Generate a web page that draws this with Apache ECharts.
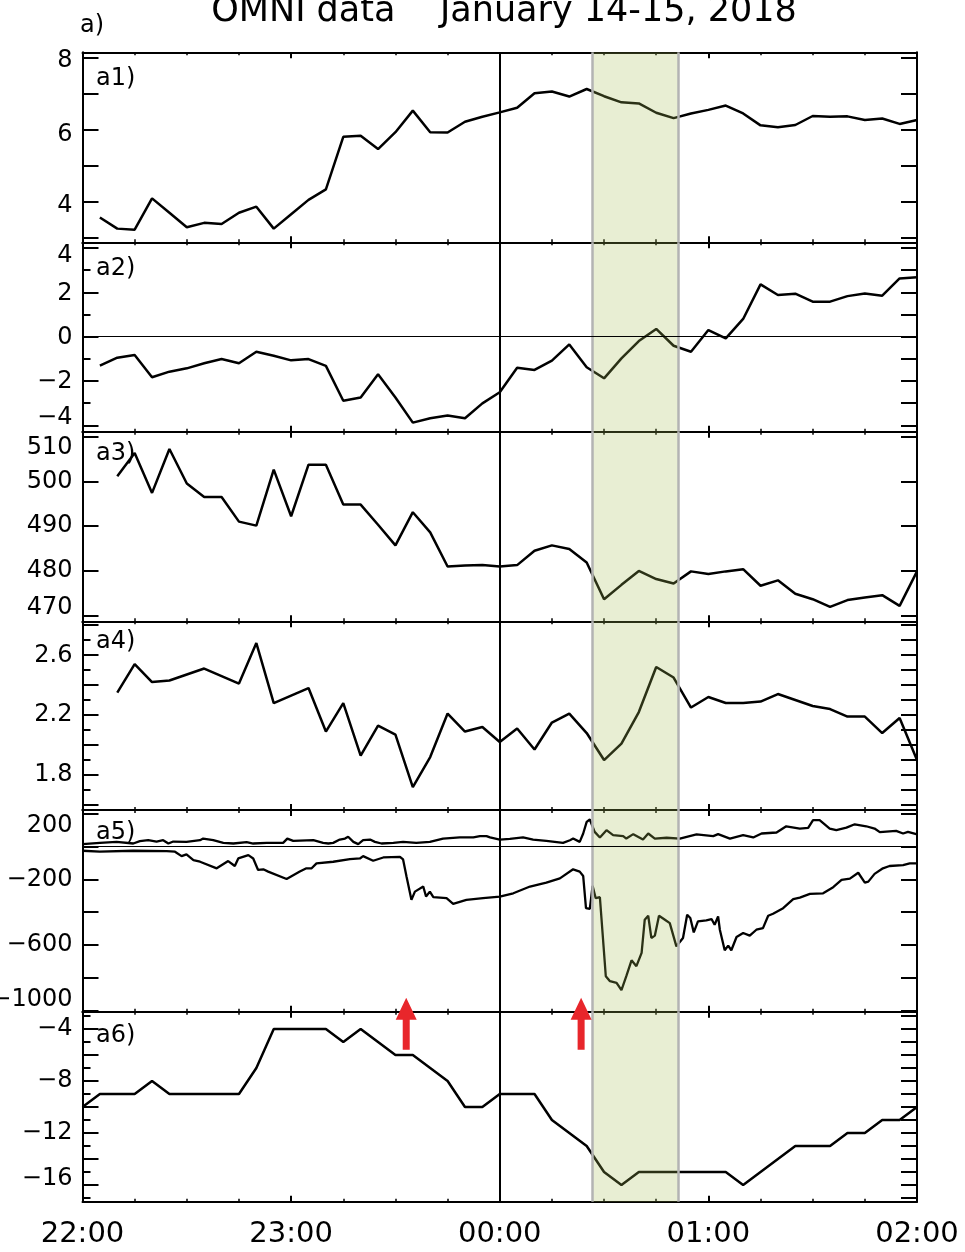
<!DOCTYPE html>
<html><head><meta charset="utf-8">
<script src="https://cdn.jsdelivr.net/npm/echarts@6/dist/echarts.min.js"></script>
<style>html,body{margin:0;padding:0;background:#fff}#c{width:965px;height:1252px}</style>
</head><body><div id="c"></div>
<script>
// ---------------- DATA ----------------
const xTickLabels = ['22:00', '23:00', '00:00', '01:00', '02:00']; // at 0,60,120,180,240 min after 22:00
const times5 = [0,5,10,15,20,25,30,35,40,45,50,55,60,65,70,75,80,85,90,95,100,105,110,115,120,
  125,130,135,140,145,150,155,160,165,170,175,180,185,190,195,200,205,210,215,220,225,230,235,240];

const a1Values = [null,3.57,3.26,3.23,4.10,3.70,3.30,3.42,3.39,3.70,3.87,3.26,3.66,4.06,4.35,5.81,5.84,5.47,5.94,6.54,5.94,5.93,6.23,6.37,6.49,
  6.62,7.02,7.07,6.93,7.14,6.94,6.77,6.74,6.48,6.33,6.46,6.56,6.68,6.46,6.13,6.08,6.14,6.39,6.37,6.38,6.28,6.32,6.17,6.28];
const a2Values = [null,-1.31,-0.95,-0.83,-1.83,-1.58,-1.43,-1.20,-1.01,-1.20,-0.68,-0.86,-1.07,-1.01,-1.32,-2.89,-2.75,-1.70,-2.75,-3.88,-3.68,-3.56,-3.68,-3.01,-2.51,
  -1.40,-1.50,-1.08,-0.35,-1.38,-1.88,-0.98,-0.20,0.35,-0.41,-0.68,0.30,-0.08,0.80,2.36,1.88,1.94,1.58,1.58,1.83,1.95,1.85,2.63,2.68];
const a3Values = [null,null,501.1,506.3,497.4,507.2,499.5,496.5,496.5,491.0,490.1,502.6,492.2,503.7,503.7,494.8,494.8,490.3,485.7,493.1,488.6,481.0,481.2,481.3,481.0,
  481.3,484.5,485.7,484.9,481.9,473.7,476.9,480.0,478.2,477.2,479.9,479.3,479.9,480.4,476.7,477.9,474.9,473.7,472.0,473.5,474.1,474.6,472.2,479.9];
const a4Values = [null,null,2.35,2.54,2.42,2.43,2.47,2.51,2.46,2.41,2.68,2.28,2.33,2.38,2.09,2.28,1.93,2.13,2.07,1.72,1.92,2.21,2.09,2.12,2.02,
  2.11,1.97,2.15,2.21,2.08,1.90,2.01,2.22,2.52,2.45,2.25,2.32,2.28,2.28,2.29,2.34,2.30,2.26,2.24,2.19,2.19,2.08,2.18,1.90];
const a6Values = [-10,-9,-9,-9,-8,-9,-9,-9,-9,-9,-7,-4,-4,-4,-4,-5,-4,-5,-6,-6,-7,-8,-10,-10,-9,
  -9,-9,-11,-12,-13,-15,-16,-15,-15,-15,-15,-15,-15,-16,-15,-14,-13,-13,-13,-12,-12,-11,-11,-10];

// a5: upper (AU) and lower (AL) curves, [minutes after 22:00, nT]
const auData = [[0,14],[5,22],[9.8,28],[14.6,18],[16.5,32],[18.9,38],[21.3,30],[23.2,38],[24.7,18],[26.1,30],[29.9,28],[33.8,38],[34.7,48],[37.6,38],[40.5,22],[43.4,18],[47.2,26],[49.1,18],[53,22],[57.7,22],[58.9,48],[60.6,34],[66.4,38],[69.2,22],[70.7,18],[72.1,22],[74,42],[75.5,48],[76.4,59],[77.9,28],[79.3,14],[80.7,38],[82.7,42],[84.1,28],[86,18],[89.4,22],[92.2,28],[96,22],[99.9,28],[103.7,48],[108.5,55],[112.4,55],[114.3,63],[116.2,63],[117.2,55],[120,42],[122.9,46],[126.7,55],[129.6,42],[133.4,34],[138.2,22],[140.2,38],[141.1,48],[143,28],[144,79],[145,150],[145.9,164],[147.3,89],[148.8,55],[150.7,99],[152.6,69],[155.5,63],[156.4,48],[158.4,75],[161.2,42],[162.7,79],[164.6,48],[168,53],[171.8,48],[176.6,73],[181.4,63],[182.8,75],[186.2,48],[190,69],[192.9,55],[195.3,79],[199.6,85],[202.4,123],[206.3,109],[208.7,113],[210.1,160],[212,160],[214.9,109],[216.8,99],[219.7,115],[222.1,135],[225.4,123],[227.8,109],[229.3,87],[234,95],[236,79],[237.4,89],[239.8,75]];
const alData = [[0,-26],[5,-32],[14.6,-26],[24.2,-28],[26.6,-32],[28.5,-59],[29.9,-48],[31.9,-83],[33.8,-93],[38.6,-133],[41.9,-89],[43.8,-119],[44.8,-73],[47.7,-53],[49.1,-73],[50.5,-143],[52,-139],[53.4,-153],[58.7,-198],[62.5,-153],[64.4,-133],[65.9,-133],[67.3,-103],[72.1,-93],[76.9,-77],[79.8,-73],[80.7,-59],[83.6,-87],[86.5,-67],[91.3,-63],[92.2,-79],[93.2,-184],[94.6,-325],[95.6,-275],[98,-244],[98.8,-305],[99.9,-275],[100.9,-309],[104.7,-315],[106.6,-349],[110.4,-325],[115.2,-315],[120,-305],[123.9,-285],[128.7,-244],[133.4,-220],[137.3,-194],[141.1,-139],[143,-153],[144,-180],[144.8,-376],[145.9,-380],[146.7,-240],[147.6,-315],[148.8,-309],[150.5,-790],[151.7,-820],[153.6,-830],[155,-875],[156.4,-790],[157.9,-693],[159.3,-729],[160.8,-648],[161.7,-446],[162.7,-422],[163.6,-557],[164.6,-543],[165.8,-422],[167.5,-446],[168.9,-467],[170.8,-608],[172.7,-557],[173.9,-416],[174.8,-436],[175.8,-523],[177,-456],[179.4,-450],[180.9,-442],[181.8,-477],[182.8,-426],[183.3,-507],[184.7,-632],[185.7,-604],[186.6,-632],[188.1,-551],[190,-527],[191.9,-543],[193.8,-507],[195.7,-497],[197.2,-422],[198.6,-410],[201.5,-376],[204.4,-321],[206.3,-311],[209.2,-289],[213,-285],[215.9,-248],[218.3,-204],[220.7,-196],[223.1,-160],[225,-220],[226,-214],[227.8,-167],[230.2,-133],[232.1,-119],[236,-113],[237.9,-103],[239.8,-103]];

const bandRange = [146.6, 171.3];   // shaded interval (min after 22:00)
const midnight = 120;               // 00:00 line
const arrowTimes = [93.1, 143.4];   // red arrows in a6
const arrowLevel = -3.6;
const panelLabels = ['a1)', 'a2)', 'a3)', 'a4)', 'a5)', 'a6)'];
const yTickLabels = [[4,6,8], [-4,-2,0,2,4], [470,480,490,500,510], [1.8,2.2,2.6], [200,-200,-600,-1000], [-4,-8,-12,-16]];
const titleText = 'OMNI data    January 14-15, 2018';

// ---------------- LAYOUT ----------------
const FONT = 'DejaVu Sans';
const L = 82.5, W = 834.5;
// label vertical nudges (px, + = down), parallel to yTickLabels
const yLabelShift = [[4,5,3], [-8,1,1,1,8], [-8,0,0,1,11], [0,0,1], [12,0,0,-11], [0,0,0,-6]];
const panels = [
  {top: 52.3,   h: 190,   min: 2.88,   max: 8.16,   major: 1,   minor: 0, right: 1,   lab: 85},
  {top: 242.3,  h: 189.4, min: -4.29,  max: 4.26,   major: 2,   minor: 2, right: 1,   lab: 275},
  {top: 431.7,  h: 189.6, min: 468.77, max: 511.05, major: 10,  minor: 0, right: 10,  lab: 460},
  {top: 621.3,  h: 188.7, min: 1.567,  max: 2.825,  major: 0.2, minor: 2, right: 0.1, lab: 648},
  {top: 810,    h: 201.7, min: -1006,  max: 222,    major: 200, minor: 0, right: 200, lab: 839},
  {top: 1011.7, h: 190,   min: -17.28, max: -2.67,  major: 2,   minor: 2, right: 1,   lab: 1042}
];
const panelSeries = [
  [times5.map((t, i) => [t, a1Values[i]])],
  [times5.map((t, i) => [t, a2Values[i]])],
  [times5.map((t, i) => [t, a3Values[i]])],
  [times5.map((t, i) => [t, a4Values[i]])],
  [auData, alData],
  [times5.map((t, i) => [t, a6Values[i]])]
];
const zeroLinePanels = [1, 4];

function fmtNum(v) {
  const r = Math.round(v * 10) / 10;
  const s = String(Math.abs(r));
  return r < 0 ? '\u2212' + s : s;
}

const black = '#000';
const grid = [], xAxis = [], yAxis = [], series = [], graphic = [];

// rich styles for nudged labels
const rich = {};
for (let d = -15; d <= 15; d++) {
  rich['s' + (d + 20)] = {fontFamily: FONT, fontSize: 24, color: black,
    padding: d >= 0 ? [2 * d, 0, 0, 0] : [0, 0, -2 * d, 0]};
}

panels.forEach((p, i) => {
  grid.push({left: L, width: W, top: p.top, height: p.h, containLabel: false, outerBoundsMode: 'none'});
  const xBase = {
    gridIndex: i, type: 'value', min: 0, max: 240, interval: 60,
    axisLine: {show: true, onZero: false, lineStyle: {color: black, width: 2}},
    axisTick: {show: true, inside: true, length: 6, lineStyle: {color: black, width: 2}},
    minorTick: {show: true, splitNumber: 4, length: 3, lineStyle: {color: black, width: 1.5}},
    splitLine: {show: false}, minorSplitLine: {show: false}
  };
  xAxis.push(Object.assign({}, xBase, {
    position: 'bottom',
    axisLabel: {
      show: i === panels.length - 1, margin: 18, color: black, fontFamily: FONT, fontSize: 29,
      formatter: v => { const k = v / 60; return Number.isInteger(k) ? xTickLabels[k] : ''; }
    }
  }));
  xAxis.push(Object.assign({}, xBase, {position: 'top', axisLabel: {show: false}}));

  const labs = yTickLabels[i], shifts = yLabelShift[i];
  yAxis.push({
    gridIndex: i, type: 'value', position: 'left', min: p.min, max: p.max,
    minInterval: p.major, maxInterval: p.major, splitNumber: 8,
    axisLine: {show: true, onZero: false, lineStyle: {color: black, width: 2}},
    axisTick: {show: true, inside: true, length: 16, lineStyle: {color: black, width: 2}},
    minorTick: {show: p.minor > 0, splitNumber: p.minor || 5, length: 8, lineStyle: {color: black, width: 2}},
    splitLine: {show: false}, minorSplitLine: {show: false},
    axisLabel: {
      show: true, margin: 10, color: black, fontFamily: FONT, fontSize: 24,
      showMinLabel: true, showMaxLabel: true, rich,
      formatter: v => {
        const k = labs.findIndex(l => Math.abs(l - v) < 1e-6 * Math.max(1, Math.abs(l)));
        if (k < 0) return '';
        return '{s' + (shifts[k] + 20) + '|' + fmtNum(v) + '}';
      }
    }
  });
  yAxis.push({
    gridIndex: i, type: 'value', position: 'right', min: p.min, max: p.max,
    minInterval: p.right, maxInterval: p.right, splitNumber: 20,
    axisLine: {show: true, onZero: false, lineStyle: {color: black, width: 2}},
    axisTick: {show: true, inside: true, length: 16, lineStyle: {color: black, width: 2}},
    splitLine: {show: false}, axisLabel: {show: false}
  });

  panelSeries[i].forEach((d, j) => {
    const s = {
      type: 'line', xAxisIndex: 2 * i, yAxisIndex: 2 * i, data: d,
      showSymbol: false, symbol: 'none', connectNulls: false, silent: true,
      lineStyle: {color: black, width: i === 4 ? 2.3 : 2.5}, z: 2
    };
    if (j === 0) {
      const ml = [
        {xAxis: bandRange[0], lineStyle: {color: '#b3b3b3', width: 2.5, type: 'solid'}},
        {xAxis: bandRange[1], lineStyle: {color: '#b3b3b3', width: 2.5, type: 'solid'}},
        {xAxis: midnight, lineStyle: {color: black, width: 2, type: 'solid'}}
      ];
      if (zeroLinePanels.includes(i)) ml.push({yAxis: 0, lineStyle: {color: black, width: 1, type: 'solid'}});
      s.markLine = {silent: true, symbol: ['none', 'none'], label: {show: false}, animation: false, data: ml};
      s.markArea = {silent: true, z: 3, itemStyle: {color: 'rgba(165,190,85,0.26)'}, label: {show: false},
        data: [[{xAxis: bandRange[0]}, {xAxis: bandRange[1]}]]};
    }
    series.push(s);
  });

  graphic.push({type: 'text', x: 96, y: p.lab - 18.5, style: {text: panelLabels[i], fill: black,
    font: '24px "' + FONT + '"', textAlign: 'left', textVerticalAlign: 'top'}});
});

// red arrows in a6
series.push({
  type: 'scatter', xAxisIndex: 10, yAxisIndex: 10, clip: false, silent: true, z: 6,
  data: arrowTimes.map(t => [t, arrowLevel]),
  symbol: 'path://M10.5,0 L21,22 L14,22 L14,52 L7,52 L7,22 L0,22 Z',
  symbolSize: [21, 52], symbolKeepAspect: false,
  itemStyle: {color: '#e8262b', opacity: 1}
});

graphic.push({type: 'text', x: 504, y: -6, style: {text: titleText, fill: black,
  font: '35px "' + FONT + '"', textAlign: 'center', textVerticalAlign: 'top'}});
graphic.push({type: 'text', x: 80, y: 13.5, style: {text: 'a)', fill: black,
  font: '24px "' + FONT + '"', textAlign: 'left', textVerticalAlign: 'top'}});

const chart = echarts.init(document.getElementById('c'), null, {renderer: 'canvas'});
chart.setOption({
  animation: false, backgroundColor: '#fff',
  grid, xAxis, yAxis, series, graphic
});
</script>
</body></html>
